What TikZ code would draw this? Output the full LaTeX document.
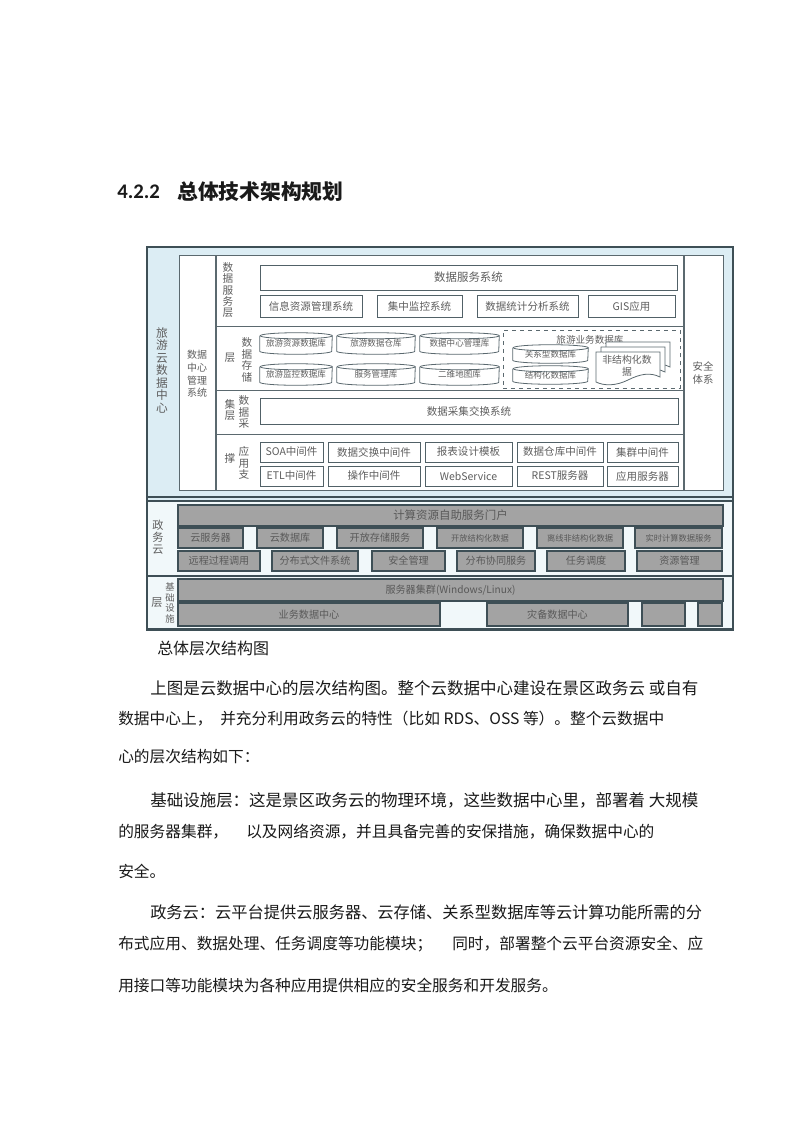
\documentclass[tikz,border=0pt]{standalone}
\usepackage{fontspec}
\setmainfont{Noto Sans CJK SC}
\newfontfamily\numfont{Carlito}
\usetikzlibrary{positioning}

\definecolor{frame}{HTML}{3E4F56}
\definecolor{skyfill}{HTML}{DCEDF4}
\definecolor{palefill}{HTML}{F1F8FA}
\definecolor{boxgray}{HTML}{A3A3A3}
\definecolor{txtgray}{HTML}{5E5E5E}
\definecolor{bodyink}{HTML}{1A1A1A}

\newlength\px
\setlength\px{0.2642mm}

\tikzset{
  secbox/.style={draw=frame, line width=0.9pt, fill=skyfill},
  lowbox/.style={draw=frame, line width=0.9pt, fill=palefill},
  colbox/.style={draw=frame!85, line width=0.7pt, fill=white},
  wbox/.style={draw=frame!90, line width=0.7pt, fill=white, text=txtgray,
    inner sep=0pt, font=\fontsize{7.9}{9}\selectfont},
  gbox/.style={draw=frame, line width=0.8pt, fill=boxgray, text=black!65,
    inner sep=0pt, font=\fontsize{7.6}{9}\selectfont},
  dbtext/.style={inner sep=0pt, text=txtgray, align=center,
    font=\fontsize{6.4}{7.4}\selectfont},
  dbline/.style={draw=frame!85, line width=0.6pt},
  dashbox/.style={draw=frame!85, dashed, line width=0.7pt},
  lbl/.style={inner sep=0pt, text=txtgray, align=center,
    font=\fontsize{8}{8.6}\selectfont},
  body/.style={anchor=west, inner sep=0pt, text=bodyink,
    font=\fontsize{11.8}{14}\selectfont},
}

% box from (x1,y1) to (x2,y2), in pixels of the page
\newcommand{\blk}[7][wbox]{%
  \node[#1, minimum width={(#5-#3)*\px}, minimum height={(#6-#4)*\px}]
    (#2) at ({(#3+#5)/2},{(#4+#6)/2}) {#7};}

% database cylinder
\newcommand{\dbs}[6]{%
  \node[dbtext, minimum width={(#4-#2)*\px}, minimum height={(#5-#3)*\px}]
    (#1) at ({(#2+#4)/2},{(#3+#5)/2}) {\raisebox{-2\px}{#6}};
  \draw[dbline] ([yshift=-3\px]#1.north west) -- ([yshift=3\px]#1.south west)
    arc[start angle=180, end angle=360, x radius={(#4-#2)/2*\px}, y radius=3\px]
    -- ([yshift=-3\px]#1.north east)
    arc[start angle=0, end angle=180, x radius={(#4-#2)/2*\px}, y radius=3\px];
  \draw[dbline] ([yshift=-3\px]#1.north east)
    arc[start angle=0, end angle=-180, x radius={(#4-#2)/2*\px}, y radius=3\px];}

\begin{document}
\begin{tikzpicture}[x=0.2642mm, y=-0.2642mm]
  \useasboundingbox[fill=white] (0,0) rectangle (795,1123);

  % heading
  \node[body, font=\numfont\bfseries\fontsize{15.6}{18}\selectfont] (secno) at (117,192) {4.2.2};
  \node[body, font=\bfseries\fontsize{15.6}{18}\selectfont] (sectitle) at (177,192) {总体技术架构规划};

  % sections
  \blk[secbox]{outer}{147}{247}{733}{630}{}
  \blk[secbox]{dcsec}{147}{247}{733}{497}{}
  \blk[lowbox]{govsec}{147}{501}{733}{576}{}
  \blk[lowbox]{infsec}{147}{576}{733}{629}{}

  \node[lbl, font=\fontsize{8.8}{9.4}\selectfont] (dclbl) at (162,370) {旅\\游\\云\\数\\据\\中\\心};
  \blk[colbox]{mgmt}{179}{255}{215}{490}{}
  \node[lbl, font=\fontsize{7.5}{9.5}\selectfont] (mgmtlbl) at (197,374) {数据\\中心\\管理\\系统};
  \blk[colbox]{safe}{684}{255}{723}{490}{}
  \node[lbl, font=\fontsize{7.8}{9.6}\selectfont] (safelbl) at (703,373) {安全\\体系};

  % data service layer
  \blk[colbox]{svc}{216}{255}{683}{326}{}
  \node[lbl] (svclbl) at (228,290) {数\\据\\服\\务\\层};
  \blk[wbox, font=\fontsize{8.6}{9}\selectfont]{svcsys}{260}{265}{677}{290}{数据服务系统}
  \blk{info}{260}{295}{362}{317}{信息资源管理系统}
  \blk{monitor}{377}{295}{462}{317}{集中监控系统}
  \blk{stat}{477}{295}{578}{317}{数据统计分析系统}
  \blk{gis}{588}{295}{675}{317}{GIS应用}

  % storage layer
  \blk[colbox]{store}{216}{326}{683}{390}{}
  \node[lbl] (storelbla) at (230,358) {层};
  \node[lbl] (storelblb) at (247,360) {数\\据\\存\\储};
  \dbs{tourdb}{260}{333}{332}{354}{旅游资源数据库}
  \dbs{tourwh}{337}{333}{415}{354}{旅游数据仓库}
  \dbs{mgmtdb}{420}{333}{499}{354}{数据中心管理库}
  \dbs{mondb}{260}{364}{332}{385}{旅游监控数据库}
  \dbs{svcdb}{337}{364}{415}{385}{服务管理库}
  \dbs{mapdb}{420}{364}{499}{385}{二维地图库}
  \blk[dashbox]{biz}{503}{330}{680}{388}{}
  \node[lbl, font=\fontsize{7.2}{8}\selectfont] (bizlbl) at (590,340) {旅游业务数据库};
  \dbs{reldb}{513}{345}{588}{363}{关系型数据库}
  \dbs{strdb}{513}{366}{588}{384}{结构化数据库}
  \foreach \d in {10,5,0}
    \draw[dbline, fill=white] ({596+\d},{352-\d}) -- ({660+\d},{352-\d}) -- ({660+\d},{377-\d})
      .. controls ({650+\d},{372-\d}) and ({640+\d},{374-\d}) .. ({628+\d},{380-\d})
      .. controls ({616+\d},{386-\d}) and ({604+\d},{386-\d}) .. ({596+\d},{382-\d}) -- cycle;
  \node[dbtext, font=\fontsize{7.4}{8.8}\selectfont] (docs) at (627,366) {非结构化数\\据};

  % collection layer
  \blk[colbox]{coll}{216}{390}{683}{434}{}
  \node[lbl] (colllbla) at (230,410) {集\\层};
  \node[lbl] (colllblb) at (244,412) {数\\据\\采};
  \blk{collsys}{260}{398}{678}{424}{数据采集交换系统}

  % support layer
  \blk[colbox]{supp}{216}{434}{683}{490}{}
  \node[lbl] (supplbla) at (230,458) {撑};
  \node[lbl] (supplblb) at (244,463) {应\\用\\支};
  \blk{soa}{260}{442}{323}{462}{SOA中间件}
  \blk{xchg}{328}{442}{420}{462}{数据交换中间件}
  \blk{report}{425}{442}{512}{462}{报表设计模板}
  \blk{dwmw}{517}{442}{603}{462}{数据仓库中间件}
  \blk{clmw}{607}{442}{678}{462}{集群中间件}
  \blk{etl}{260}{466}{323}{486}{ETL中间件}
  \blk{opmw}{328}{466}{420}{486}{操作中间件}
  \blk{ws}{425}{466}{512}{486}{WebService}
  \blk{rest}{517}{466}{603}{486}{REST服务器}
  \blk{appsrv}{607}{466}{678}{486}{应用服务器}

  % government cloud
  \node[lbl, font=\fontsize{8.4}{9}\selectfont] (govlbl) at (158,537) {政\\务\\云};
  \blk[gbox, font=\fontsize{8.6}{9}\selectfont]{portal}{178}{505}{723}{526}{计算资源自助服务门户}
  \blk[gbox]{cvm}{178}{528}{243}{548}{云服务器}
  \blk[gbox]{cdb}{257}{528}{323}{548}{云数据库}
  \blk[gbox]{oss}{337}{528}{423}{548}{开放存储服务}
  \blk[gbox, font=\fontsize{6.2}{7}\selectfont]{ots}{437}{528}{523}{548}{开放结构化数据}
  \blk[gbox, font=\fontsize{6.2}{7}\selectfont]{offline}{537}{528}{623}{548}{离线非结构化数据}
  \blk[gbox, font=\fontsize{6.2}{7}\selectfont]{stream}{635}{528}{722}{548}{实时计算数据服务}
  \blk[gbox]{rpc}{178}{551}{260}{571}{远程过程调用}
  \blk[gbox]{dfs}{272}{551}{358}{571}{分布式文件系统}
  \blk[gbox]{secmgmt}{372}{551}{445}{571}{安全管理}
  \blk[gbox]{coop}{457}{551}{535}{571}{分布协同服务}
  \blk[gbox]{sched}{547}{551}{625}{571}{任务调度}
  \blk[gbox]{resmgmt}{637}{551}{722}{571}{资源管理}

  % infrastructure
  \node[lbl, font=\fontsize{8.4}{9}\selectfont] (inflbla) at (157,603) {层};
  \node[lbl, font=\fontsize{7}{8.2}\selectfont] (inflblb) at (170,603) {基\\础\\设\\施};
  \blk[gbox]{cluster}{178}{579}{723}{601}{服务器集群(Windows/Linux)}
  \blk[gbox]{bizdc}{178}{603}{440}{626}{业务数据中心}
  \blk[gbox]{drdc}{487}{603}{628}{626}{灾备数据中心}
  \blk[gbox]{spare}{642}{603}{685}{626}{}
  \blk[gbox]{sparb}{698}{603}{722}{626}{}

  % caption and text
  \node[body, font=\fontsize{12}{14}\selectfont] (caption) at (157,648) {总体层次结构图};
  \node[body, font=\fontsize{12.4}{14}\selectfont] (pa1) at (150,688) {上图是云数据中心的层次结构图。整个云数据中心建设在景区政务云 或自有};
  \node[body] (pa2a) at (118,719) {数据中心上，};
  \node[body] (pa2b) at (220,719) {并充分利用政务云的特性（比如 RDS、OSS 等）。整个云数据中};
  \node[body] (pa3) at (118,757) {心的层次结构如下：};
  \node[body, font=\fontsize{12.4}{14}\selectfont] (pb1) at (150,800) {基础设施层：这是景区政务云的物理环境，这些数据中心里，部署着 大规模};
  \node[body] (pb2a) at (118,832) {的服务器集群，};
  \node[body] (pb2b) at (246,832) {以及网络资源，并且具备完善的安保措施，确保数据中心的};
  \node[body] (pb3) at (118,871) {安全。};
  \node[body, font=\fontsize{12.2}{14}\selectfont] (pc1) at (150,912) {政务云：云平台提供云服务器、云存储、关系型数据库等云计算功能所需的分};
  \node[body] (pc2a) at (118,944) {布式应用、数据处理、任务调度等功能模块；};
  \node[body] (pc2b) at (452,944) {同时，部署整个云平台资源安全、应};
  \node[body] (pc3) at (118,985) {用接口等功能模块为各种应用提供相应的安全服务和开发服务。};
\end{tikzpicture}
\end{document}
